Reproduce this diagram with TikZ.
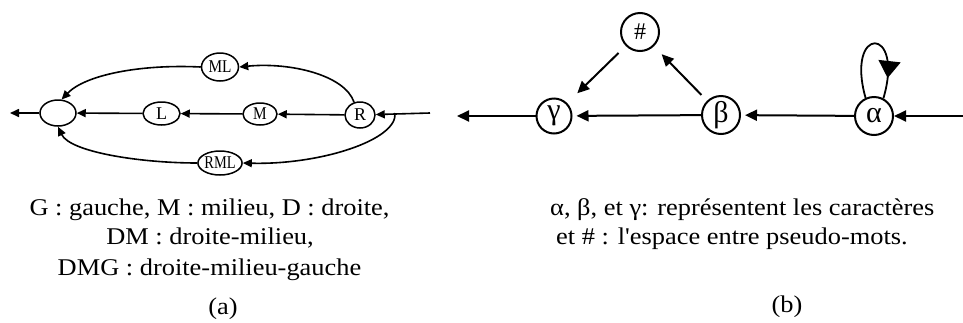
\documentclass[tikz,border=0pt]{standalone}
\usepackage{fontspec}
\setmainfont{Liberation Serif}
\usetikzlibrary{arrows.meta,shapes.geometric,decorations.markings}
\tikzset{
  lst/.style={draw, ellipse, line width=1.5pt, inner sep=0pt, font=\fontsize{18}{18}\selectfont},
  rst/.style={draw, circle, line width=2pt, inner sep=0pt, minimum size=38pt, font=\fontsize{30}{30}\selectfont},
  la/.style={line width=1.6pt, -{Triangle[length=9pt,width=8pt]}},
  ra/.style={line width=2pt, -{Triangle[length=12pt,width=11pt]}},
  captxt/.style={font=\fontsize{24}{28}\selectfont, inner sep=0pt},
}
\newcommand{\wide}[1]{\scalebox{1.1}[1]{#1}}
\newcommand{\narrow}[1]{\scalebox{0.85}[1]{#1}}
\begin{document}
\begin{tikzpicture}[x=1pt,y=-1pt]
\useasboundingbox (0,0) rectangle (963,322);
% ---------- (a) ----------
\node[lst, minimum width=36pt, minimum height=26pt] (e) at (58,113) {};
\node[lst, minimum width=37pt, minimum height=23pt] (L) at (161.5,113.5) {L};
\node[lst, minimum width=34pt, minimum height=22pt] (M) at (260,114) {\narrow{M}};
\node[lst, minimum width=30pt, minimum height=26pt] (R) at (360,115) {R};
\node[lst, minimum width=37pt, minimum height=28pt] (ML) at (220,67) {\narrow{ML}};
\node[lst, minimum width=42pt, minimum height=24pt] (RML) at (220,163) {\scalebox{0.8}[1]{RML}};
\coordinate (aout) at (10,113);
\coordinate (ain) at (430,113);
\coordinate (split) at (395,113);
\draw[la] (e) -- (aout);
\draw[la] (L) -- (e);
\draw[la] (M) -- (L);
\draw[la] (R) -- (M);
\draw[la] (ain) -- (R);
\draw[la] (R.115) .. controls (345,75) and (290,62) .. (ML.east);
\draw[la] (ML.west) .. controls (140,64) and (85,75) .. (e.75);
\draw[la] (split) .. controls (398,140) and (320,165) .. (RML.east);
\draw[la] (RML.west) .. controls (140,163) and (70,152) .. (e.south);
\node[captxt, anchor=base] (ca1) at (209.5,215) {\wide{G : gauche, M : milieu, D : droite,}};
\node[captxt, anchor=base] (ca2) at (210,244) {\wide{DM : droite-milieu,}};
\node[captxt, anchor=base] (ca3) at (209.5,275) {\wide{DMG : droite-milieu-gauche}};
\node[captxt, anchor=base] (la) at (223,314) {\wide{(a)}};
% ---------- (b) ----------
\node[rst, minimum size=35pt] (g) at (554,116) {γ};
\node[rst] (b) at (721,115) {β};
\node[rst] (al) at (874,116) {α};
\node[rst, font=\fontsize{24}{24}\selectfont] (h) at (640,32) {\#};
\coordinate (bout) at (457,116);
\coordinate (bin) at (963,116);
\draw[ra] (g) -- (bout);
\draw[ra, shorten >=4pt] (b) -- (g);
\draw[ra, shorten >=4pt] (al) -- (b);
\draw[ra] (bin) -- (al);
\draw[ra, shorten <=8pt, shorten >=11pt] (b) -- (h);
\draw[ra, shorten <=10pt, shorten >=14pt] (h) -- (g);
\draw[line width=1.8pt, decoration={markings, mark=at position 0.83 with {\arrow{Triangle[width=22pt,length=17pt]}}}, postaction={decorate}]
  (al.115) .. controls (845,25) and (905,25) .. (al.62);
\node[captxt, anchor=base west] (cb1) at (550,215) {\wide{α, β, et γ: représentent les caractères}};
\node[captxt, anchor=base west] (cb2) at (556,244) {\wide{et \# : l\textquotesingle espace entre pseudo-mots.}};
\node[captxt, anchor=base] (lb) at (787,312) {\wide{(b)}};
\end{tikzpicture}
\end{document}
